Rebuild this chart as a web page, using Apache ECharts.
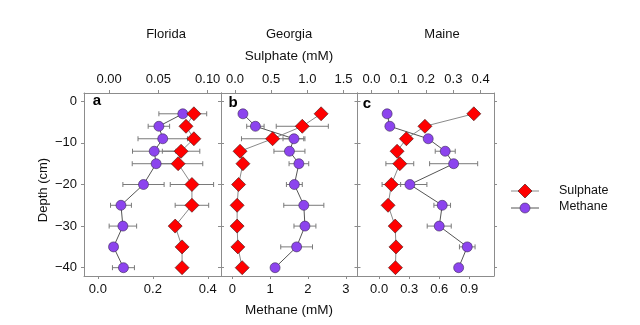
<!DOCTYPE html>
<html>
<head>
<meta charset="utf-8">
<script src="https://cdn.jsdelivr.net/npm/echarts@6/dist/echarts.min.js"></script>
<style>
html, body { margin: 0; padding: 0; background: #fff; }
#chart { width: 640px; height: 325px; }
</style>
</head>
<body>
<div id="chart"></div>
<script>
// Porewater profiles: depth (cm) vs. sulphate and methane (mM)
const depths = [-3, -6, -9, -12, -15, -20, -25, -30, -35, -40];

const floridaSulphate    = [0.086, 0.078, 0.086, 0.073, 0.070, 0.084, 0.084, 0.067, 0.074, 0.074];
const floridaSulphateErr = [0, 0, 0, 0.019, 0.025, 0.022, 0.017, 0, 0, 0];
const floridaMethane     = [0.309, 0.222, 0.236, 0.205, 0.212, 0.166, 0.084, 0.091, 0.057, 0.093];
const floridaMethaneErr  = [0.087, 0.039, 0.090, 0.079, 0.087, 0.075, 0.038, 0.050, 0.014, 0.040];

const georgiaSulphate    = [1.19, 0.93, 0.52, 0.07, 0.11, 0.05, 0.03, 0.03, 0.04, 0.10];
const georgiaSulphateErr = [0, 0.36, 0.43, 0, 0, 0, 0, 0, 0, 0];
const georgiaMethane     = [0.28, 0.61, 1.63, 1.51, 1.76, 1.64, 1.89, 1.92, 1.70, 1.13];
const georgiaMethaneErr  = [0, 0.23, 0.29, 0.41, 0.26, 0.21, 0.53, 0.29, 0.42, 0];

const maineSulphate      = [0.375, 0.196, 0.128, 0.094, 0.104, 0.073, 0.061, 0.087, 0.090, 0.088];
const maineSulphateErr   = [0, 0, 0, 0, 0.051, 0.034, 0, 0, 0, 0];
const maineMethane       = [0.080, 0.107, 0.490, 0.660, 0.744, 0.307, 0.630, 0.600, 0.880, 0.794];
const maineMethaneErr    = [0, 0, 0, 0.10, 0.24, 0.17, 0.083, 0.12, 0.078, 0];

const depthTicks = [-40, -30, -20, -10, 0];

const sites = ['Florida', 'Georgia', 'Maine'];
const panelLetters = ['a', 'b', 'c'];

const sulphateTicks = [[0, 0.05, 0.10], [0, 0.5, 1.0, 1.5], [0, 0.1, 0.2, 0.3, 0.4]];
const methaneTicks  = [[0, 0.2, 0.4], [0, 1, 2, 3], [0, 0.3, 0.6, 0.9]];
const sulphateDecimals = [2, 1, 1];
const methaneDecimals  = [1, 0, 1];

const panels = [
  { sulphate: floridaSulphate, sulphateErr: floridaSulphateErr, methane: floridaMethane, methaneErr: floridaMethaneErr },
  { sulphate: georgiaSulphate, sulphateErr: georgiaSulphateErr, methane: georgiaMethane, methaneErr: georgiaMethaneErr },
  { sulphate: maineSulphate,   sulphateErr: maineSulphateErr,   methane: maineMethane,   methaneErr: maineMethaneErr }
];

// layout of the three panels
const gridLefts  = [84, 221, 357.5];
const gridWidths = [137, 136.5, 136.5];
const sulphateRange = [[-0.0255, 0.1135], [-0.193, 1.693], [-0.051, 0.449]];
const methaneRange  = [[-0.0505, 0.448], [-0.30, 3.31], [-0.216, 1.147]];
const titleX = [166, 289, 442];
const letterPos = [[97, 101], [233, 103], [367, 104]];

const FONT = '"Liberation Sans", Arial, Helvetica, sans-serif';
const AXIS_COLOR = '#8c8c8c';
const RED = '#ff0000';
const PURPLE = '#8c44ee';
const FS = 13;

const grids = [], xAxes = [], yAxes = [], series = [];

function errorBarSeries(xIdx, yIdx, values, errs) {
  const data = values.map((v, i) => [v, depths[i], errs[i]]).filter(d => d[2] > 0);
  return {
    type: 'custom',
    xAxisIndex: xIdx,
    yAxisIndex: yIdx,
    z: 1,
    silent: true,
    data: data,
    renderItem: function (params, api) {
      const v = api.value(0), d = api.value(1), e = api.value(2);
      const p1 = api.coord([v - e, d]);
      const p2 = api.coord([v + e, d]);
      const cap = 2.5;
      const style = { stroke: '#7a7a7a', lineWidth: 1 };
      return {
        type: 'group',
        children: [
          { type: 'line', shape: { x1: p1[0], y1: p1[1], x2: p2[0], y2: p2[1] }, style: style },
          { type: 'line', shape: { x1: p1[0], y1: p1[1] - cap, x2: p1[0], y2: p1[1] + cap }, style: style },
          { type: 'line', shape: { x1: p2[0], y1: p2[1] - cap, x2: p2[0], y2: p2[1] + cap }, style: style }
        ]
      };
    }
  };
}

panels.forEach((p, i) => {
  grids.push({ left: gridLefts[i], width: gridWidths[i], top: 93, height: 183, containLabel: false });

  const axisLine = { show: true, onZero: false, lineStyle: { color: AXIS_COLOR, width: 1 } };
  const tickBase = { show: true, length: 3, lineStyle: { color: AXIS_COLOR, width: 1 } };
  const labelBase = { color: '#111', fontFamily: FONT, fontSize: FS };

  // bottom: methane
  xAxes.push({
    type: 'value', gridIndex: i, position: 'bottom',
    min: methaneRange[i][0], max: methaneRange[i][1],
    axisLine: axisLine, splitLine: { show: false },
    axisTick: Object.assign({ customValues: methaneTicks[i] }, tickBase),
    axisLabel: Object.assign({ customValues: methaneTicks[i], margin: 7,
      formatter: v => Number(v).toFixed(methaneDecimals[i]) }, labelBase)
  });
  // top: sulphate
  xAxes.push({
    type: 'value', gridIndex: i, position: 'top',
    min: sulphateRange[i][0], max: sulphateRange[i][1],
    axisLine: axisLine, splitLine: { show: false },
    axisTick: Object.assign({ customValues: sulphateTicks[i] }, tickBase),
    axisLabel: Object.assign({ customValues: sulphateTicks[i], margin: 7,
      formatter: v => Number(v).toFixed(sulphateDecimals[i]) }, labelBase)
  });
  // left depth axis (labels only on the first panel)
  yAxes.push({
    type: 'value', gridIndex: i, position: 'left',
    min: -42, max: 2,
    axisLine: axisLine, splitLine: { show: false },
    axisTick: Object.assign({ customValues: depthTicks }, tickBase),
    axisLabel: Object.assign({ show: i === 0, customValues: depthTicks, margin: 7,
      formatter: v => String(v).replace('-', '\u2212') }, labelBase)
  });
  // right frame
  yAxes.push({
    type: 'value', gridIndex: i, position: 'right',
    min: -42, max: 2,
    axisLine: axisLine, splitLine: { show: false },
    axisTick: Object.assign({ customValues: depthTicks }, tickBase),
    axisLabel: { show: false }
  });

  const xm = 2 * i, xs = 2 * i + 1, yl = 2 * i;

  series.push(errorBarSeries(xm, yl, p.methane, p.methaneErr));
  series.push(errorBarSeries(xs, yl, p.sulphate, p.sulphateErr));

  series.push({
    name: 'Methane', type: 'line', xAxisIndex: xm, yAxisIndex: yl, z: 3,
    data: p.methane.map((v, k) => [v, depths[k]]),
    symbol: 'circle', symbolSize: 10,
    lineStyle: { color: '#555', width: 1 },
    itemStyle: { color: PURPLE, borderColor: '#3a2a55', borderWidth: 0.6 },
    silent: true, animation: false
  });
  series.push({
    name: 'Sulphate', type: 'line', xAxisIndex: xs, yAxisIndex: yl, z: 4,
    data: p.sulphate.map((v, k) => [v, depths[k]]),
    symbol: 'diamond', symbolSize: [14, 14],
    lineStyle: { color: '#8a8a8a', width: 1 },
    itemStyle: { color: RED, borderColor: '#3a1010', borderWidth: 0.6 },
    silent: true, animation: false
  });
});

const textStyle = (s, size) => Object.assign({ fill: '#111', font: (size || FS) + 'px ' + FONT }, s);

const graphic = [];
sites.forEach((name, i) => {
  graphic.push({ type: 'text', style: textStyle({ text: name, x: titleX[i], y: 34, textAlign: 'center', textVerticalAlign: 'middle' }) });
  graphic.push({ type: 'text', style: { text: panelLetters[i], x: letterPos[i][0], y: letterPos[i][1],
    textAlign: 'center', textVerticalAlign: 'middle', fill: '#000', font: 'bold 15px ' + FONT } });
});
graphic.push(
  { type: 'text', style: textStyle({ text: 'Sulphate (mM)', x: 289, y: 56, textAlign: 'center', textVerticalAlign: 'middle' }, 13.5) },
  { type: 'text', style: textStyle({ text: 'Methane (mM)', x: 289, y: 310, textAlign: 'center', textVerticalAlign: 'middle' }, 13.5) },
  { type: 'text', x: 43, y: 190, rotation: Math.PI / 2,
    style: textStyle({ text: 'Depth (cm)', x: 0, y: 0, textAlign: 'center', textVerticalAlign: 'middle' }) },
  // key
  { type: 'line', shape: { x1: 511, y1: 191, x2: 539, y2: 191 }, style: { stroke: '#8a8a8a', lineWidth: 1 } },
  { type: 'polygon', shape: { points: [[525, 184], [532, 191], [525, 198], [518, 191]] },
    style: { fill: RED, stroke: '#3a1010', lineWidth: 0.6 } },
  { type: 'line', shape: { x1: 511, y1: 208, x2: 539, y2: 208 }, style: { stroke: '#555', lineWidth: 1 } },
  { type: 'circle', shape: { cx: 525, cy: 208, r: 5 }, style: { fill: PURPLE, stroke: '#3a2a55', lineWidth: 0.6 } },
  { type: 'text', style: textStyle({ text: 'Sulphate', x: 559, y: 191, textAlign: 'left', textVerticalAlign: 'middle' }, 12.5) },
  { type: 'text', style: textStyle({ text: 'Methane', x: 559, y: 207, textAlign: 'left', textVerticalAlign: 'middle' }, 12.5) }
);

const chart = echarts.init(document.getElementById('chart'), null, { renderer: 'canvas' });
chart.setOption({
  animation: false,
  backgroundColor: '#fff',
  grid: grids,
  xAxis: xAxes,
  yAxis: yAxes,
  series: series,
  graphic: graphic
});
</script>
</body>
</html>
